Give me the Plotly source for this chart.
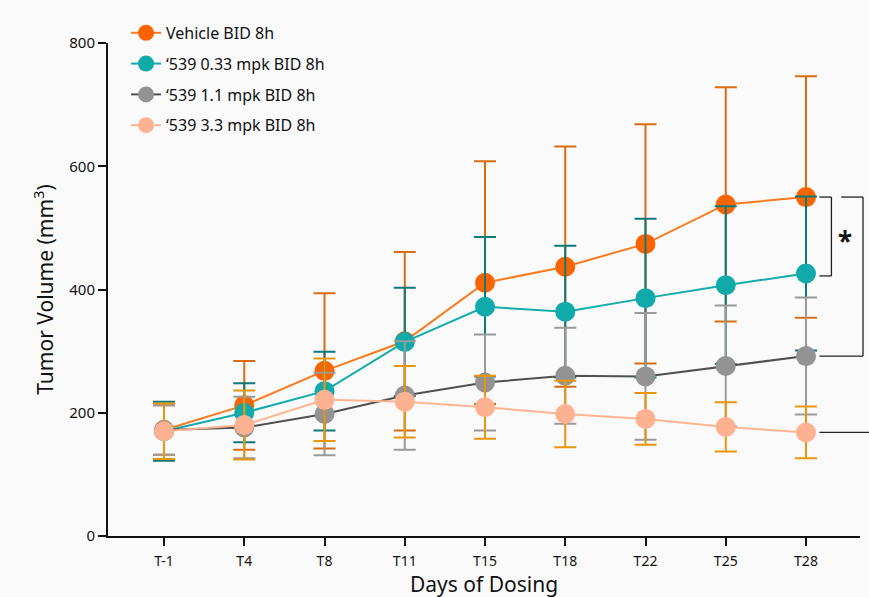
import plotly.graph_objects as go

days = ["T-1", "T4", "T8", "T11", "T15", "T18", "T22", "T25", "T28"]

names = ["Vehicle BID 8h", "\u2018539 0.33 mpk BID 8h", "\u2018539 1.1 mpk BID 8h", "\u2018539 3.3 mpk BID 8h"]

vehicle = [172, 212, 268, 316, 411, 437, 474, 538, 550]
vehicle_err = [40, 72, 126, 145, 197, 195, 194, 190, 196]

mpk033 = [170, 200, 235, 315, 372, 364, 386, 407, 426]
mpk033_err = [48, 48, 64, 88, 113, 107, 129, 128, 125]

mpk11 = [172, 176, 198, 228, 249, 260, 259, 276, 292]
mpk11_err = [40, 50, 67, 88, 78, 78, 103, 98, 95]

mpk33 = [170, 180, 221, 218, 209, 198, 190, 177, 168]
mpk33_err = [45, 56, 67, 58, 51, 54, 42, 40, 42]

series = [vehicle, mpk033, mpk11, mpk33]
errors = [vehicle_err, mpk033_err, mpk11_err, mpk33_err]
marker_colors = ["#fa6400", "#10aaaa", "#939393", "#ffb292"]
line_colors = ["#fa7a1e", "#14abab", "#505050", "#ffb48f"]
err_colors = ["#d96c12", "#0f7878", "#9a9a9a", "#e8960c"]

FONT = "Noto Sans"

fig = go.Figure()
for i in range(4):
    fig.add_trace(go.Scatter(
        x=days, y=series[i], name=names[i], mode="lines+markers",
        legendgroup=f"g{i}",
        line=dict(color=line_colors[i], width=2),
        marker=dict(color=marker_colors[i], size=20),
        error_y=dict(type="data", array=errors[i], visible=True,
                     color=err_colors[i], thickness=2, width=11),
    ))

# significance brackets (in paper x, data y)
xa, xb = 0.946, 0.962
xc, xd = 0.975, 1.004
shape_style = dict(color="#222222", width=1.3)
yv, yt, yg, yp = vehicle[-1], mpk033[-1], mpk11[-1], mpk33[-1]
shapes = [
    dict(type="line", xref="paper", yref="y", x0=xa, x1=xb, y0=yv, y1=yv, line=shape_style),
    dict(type="line", xref="paper", yref="y", x0=xb, x1=xb, y0=yv, y1=yt - 4, line=shape_style),
    dict(type="line", xref="paper", yref="y", x0=xa, x1=xb, y0=yt - 4, y1=yt - 4, line=shape_style),
    dict(type="line", xref="paper", yref="y", x0=xc, x1=xd, y0=yv, y1=yv, line=shape_style),
    dict(type="line", xref="paper", yref="y", x0=xd, x1=xd, y0=yv, y1=yg, line=shape_style),
    dict(type="line", xref="paper", yref="y", x0=xa, x1=xd, y0=yg, y1=yg, line=shape_style),
    dict(type="line", xref="paper", yref="y", x0=xa, x1=1.02, y0=yp, y1=yp, line=shape_style),
]
fig.update_layout(shapes=shapes)
fig.add_annotation(text="<b>*</b>", xref="paper", yref="y", x=0.9925, y=(yv + yt) / 2 - 10,
                   showarrow=False, font=dict(size=26, color="#111111", family=FONT))
# x-axis title
fig.add_annotation(text="Days of Dosing", xref="paper", yref="paper", x=0.5, y=-0.097,
                   xanchor="center", yanchor="middle", showarrow=False,
                   font=dict(size=21, color="#111111", family=FONT))

fig.update_layout(
    width=869, height=597,
    margin=dict(l=108, r=9, t=43, b=61),
    paper_bgcolor="#fafafa", plot_bgcolor="#fafafa",
    font=dict(family=FONT, color="#111111"),
    showlegend=True,
    legend=dict(x=0.024, y=1.055, xanchor="left", yanchor="top",
                bgcolor="rgba(0,0,0,0)", font=dict(size=16, family=FONT),
                tracegroupgap=7, traceorder="grouped"),
    xaxis=dict(
        type="category", range=[-0.698, 8.673], automargin=False,
        showgrid=False, zeroline=False,
        showline=True, linecolor="#111111", linewidth=2,
        ticks="outside", ticklen=8, tickwidth=2, tickcolor="#111111",
        tickfont=dict(size=14, family=FONT), ticklabelstandoff=3,
    ),
    yaxis=dict(
        range=[0, 800], tickvals=[0, 200, 400, 600, 800], automargin=False,
        showgrid=False, zeroline=False,
        showline=True, linecolor="#111111", linewidth=2,
        ticks="outside", ticklen=8, tickwidth=2, tickcolor="#111111",
        tickfont=dict(size=15, family=FONT),
        title=dict(text="Tumor Volume (mm<sup>3</sup>)", font=dict(size=21, family=FONT), standoff=10),
    ),
)

fig.write_html("out.html")
